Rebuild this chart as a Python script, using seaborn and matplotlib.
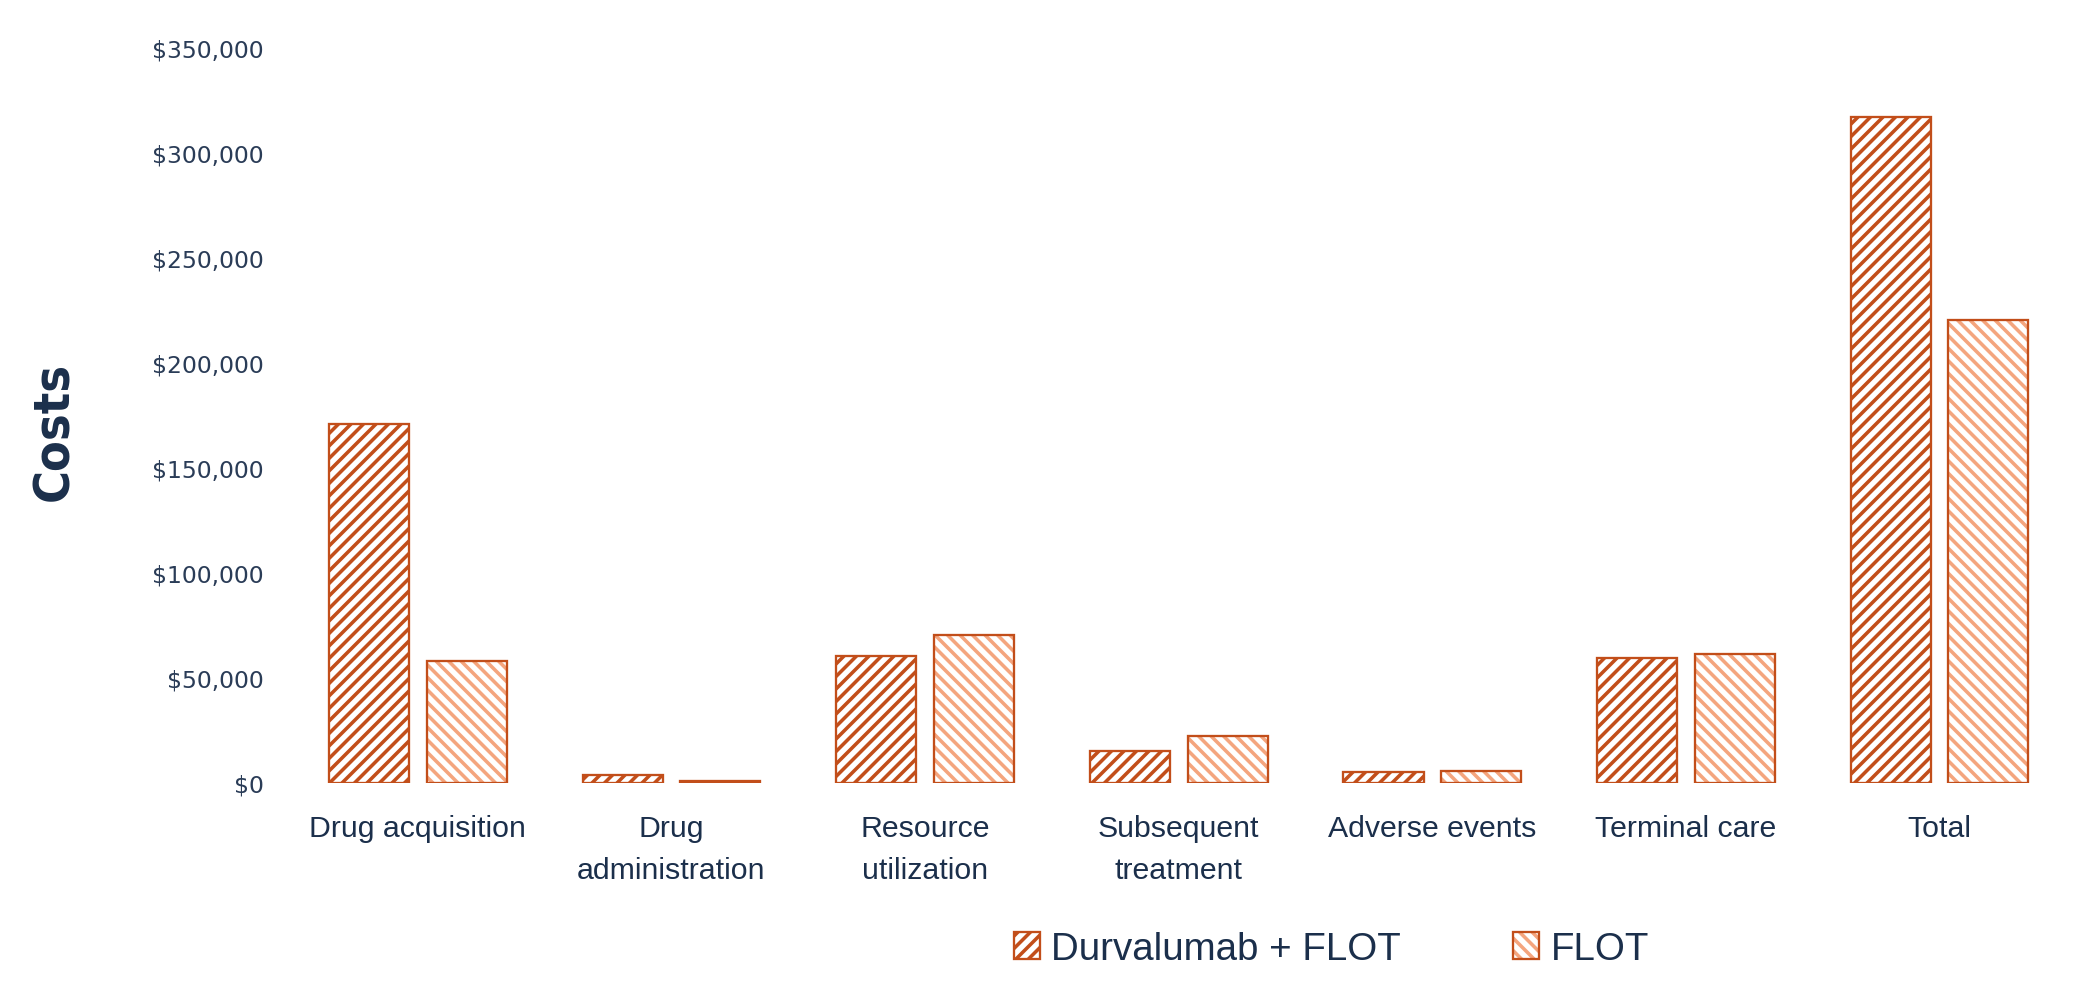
import numpy as np
import pandas as pd
import matplotlib
matplotlib.use("Agg")
import matplotlib.pyplot as plt
import seaborn as sns
from matplotlib.patches import Patch, Rectangle
from matplotlib.legend_handler import HandlerTuple
from matplotlib.ticker import MultipleLocator, StrMethodFormatter

#%% data
categories = ["Drug acquisition", "Drug\nadministration", "Resource\nutilization",
              "Subsequent\ntreatment", "Adverse events", "Terminal care", "Total"]
series = ["Durvalumab + FLOT", "FLOT"]
durva_flot = [171000, 3800, 60500, 15300, 5100, 59500, 317000]
flot = [58000, 800, 70700, 22200, 5800, 61600, 220500]

df = pd.DataFrame({
    "category": categories * 2,
    "arm": [series[0]] * len(categories) + [series[1]] * len(categories),
    "cost": durva_flot + flot,
})

#%% styling
edge_col = "#C24E1A"
hatch_cols = {series[0]: "#C24E1A", series[1]: "#F4A57E"}
hatches = {series[0]: "//", series[1]: "\\\\"}
text_col = "#1B2F4B"

sns.set_theme(style="white")
plt.rcParams["hatch.linewidth"] = 3.4

fig = plt.figure(figsize=(28, 13.333), dpi=75)
ax = fig.add_axes([0.1386, 0.216, 0.8454, 0.735])

sns.barplot(data=df, x="category", y="cost", hue="arm", order=categories,
            hue_order=series, width=0.77, gap=0.18, legend=False, ax=ax)

# hatch first (edge colour = hatch colour), then a dark outline on top
for arm, cont in zip(series, ax.containers):
    for p in cont.patches:
        p.set_facecolor("white")
        p.set_edgecolor(hatch_cols[arm])
        p.set_hatch(hatches[arm])
        p.set_linewidth(0)
        ax.add_patch(Rectangle(p.get_xy(), p.get_width(), p.get_height(),
                               fill=False, edgecolor=edge_col, linewidth=2.2, zorder=p.get_zorder() + 0.1))

ax.set_ylim(0, 350000)
ax.yaxis.set_major_locator(MultipleLocator(50000))
ax.yaxis.set_major_formatter(StrMethodFormatter("${x:,.0f}"))
ax.set_xlabel("")
ax.set_ylabel("")
sns.despine(ax=ax, left=True, bottom=True)
ax.tick_params(axis="y", length=0, pad=26, labelsize=22.5, labelcolor="#2A3C57")
ax.tick_params(axis="x", length=0, pad=30, labelcolor=text_col)
for lab in ax.get_xticklabels():
    lab.set_fontfamily(["Liberation Sans", "DejaVu Sans"])
    lab.set_fontsize(29)
    lab.set_linespacing(1.62)

fig.text(0.026, 0.569, "Costs", rotation=90, ha="center", va="center",
         fontsize=48, fontweight="bold", fontstretch="condensed", color=text_col,
         family=["DejaVu Sans"])

# legend: hatched square with the dark outline drawn over it
handles = []
for arm in series:
    h1 = Patch(facecolor="white", edgecolor=hatch_cols[arm], hatch=hatches[arm], linewidth=0)
    h2 = Patch(facecolor="none", edgecolor=edge_col, linewidth=2.2)
    handles.append((h1, h2))
leg = fig.legend(handles, series, handler_map={tuple: HandlerTuple(ndivide=1, pad=0)},
                 loc="center", bbox_to_anchor=(0.634, 0.05), ncol=2, frameon=False,
                 prop={"family": ["Liberation Sans", "DejaVu Sans"], "size": 37},
                 handlelength=0.68, handleheight=0.68, handletextpad=0.3, columnspacing=2.9)
for t in leg.get_texts():
    t.set_color(text_col)

fig.savefig("out.png", dpi=75, facecolor="white")
